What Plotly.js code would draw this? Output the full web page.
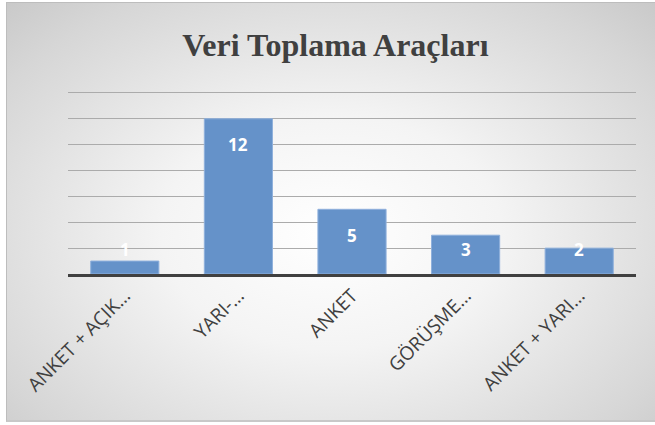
<!DOCTYPE html>
<html>
<head>
<meta charset="utf-8">
<script src="https://cdn.plot.ly/plotly-3.0.1.min.js"></script>
<style>
  html, body { margin: 0; padding: 0; background: #ffffff; }
  #bg {
    position: absolute; left: 6px; top: 2px; width: 649px; height: 420px;
    background: radial-gradient(ellipse 75% 80% at 50% 55%, #ffffff 0%, #f4f4f4 35%, #d6d6d6 80%, #c6c6c6 100%);
    box-sizing: border-box; border-top: 1px solid #bdbdbd; border-left: 1px solid #bdbdbd; border-bottom: 2px solid #c8c8c8;
  }
  #chart { position: absolute; left: 0; top: 0; width: 655px; height: 425px; }
</style>
</head>
<body>
<div id="bg"></div>
<div id="chart"></div>
<script>
const chartTitle = "Veri Toplama Araçları";
const categories = ["ANKET + AÇIK…", "YARI-…", "ANKET", "GÖRÜŞME…", "ANKET + YARI…"];
const values = [1, 12, 5, 3, 2];

const barTrace = {
  type: "bar",
  x: categories,
  y: values,
  marker: { color: "#6592c9", line: { color: "#8fb0dc", width: 1 } },
  hoverinfo: "skip"
};

// labels sit ~2 units below the bar top, never lower than 1.86
const labelAnnotations = categories.map((c, i) => ({
  x: c,
  y: Math.max(values[i] - 2, 1.86),
  xref: "x", yref: "y",
  text: "<b>" + values[i] + "</b>",
  showarrow: false,
  font: { family: "Open Sans, sans-serif", size: 17, color: "#ffffff" },
  xanchor: "center", yanchor: "middle"
}));

const layout = {
  width: 655, height: 425,
  margin: { l: 68, r: 19, t: 89, b: 151 },
  paper_bgcolor: "rgba(0,0,0,0)",
  plot_bgcolor: "rgba(0,0,0,0)",
  showlegend: false,
  bargap: 0.4,
  title: {
    text: "<b>" + chartTitle + "</b>",
    font: { family: "Liberation Serif, Times New Roman, serif", size: 32, color: "#404040" },
    x: 0.512, xanchor: "center",
    y: 0.895, yanchor: "middle"
  },
  xaxis: {
    type: "category",
    tickangle: -45,
    tickfont: { family: "Open Sans, sans-serif", size: 19, color: "#404040" },
    ticklabelshift: 0,
    showline: true, linecolor: "#404040", linewidth: 3,
    ticks: "", showgrid: false
  },
  yaxis: {
    range: [0, 14.3],
    dtick: 2,
    showticklabels: false,
    showgrid: true, gridcolor: "#ababab", gridwidth: 1,
    zeroline: false, showline: false, ticks: ""
  },
  annotations: labelAnnotations
};

Plotly.newPlot("chart", [barTrace], layout, { displayModeBar: false, staticPlot: true });
</script>
</body>
</html>
